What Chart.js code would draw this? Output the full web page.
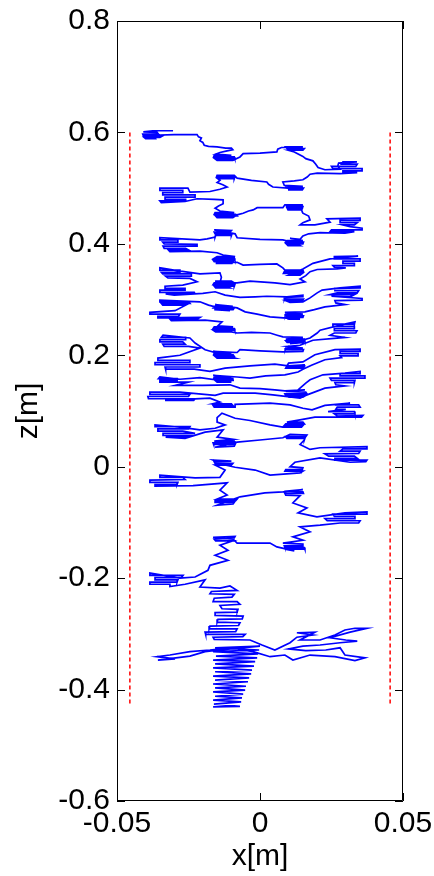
<!DOCTYPE html>
<html lang="en">
<head>
<meta charset="utf-8">
<script src="https://cdn.jsdelivr.net/npm/chart.js@4"></script>
<title>x[m] / z[m]</title>
<style>
  body { margin: 0; background: #fff; }
  canvas { display: block; }
</style>
</head>
<body>
<canvas id="walkChart" width="434" height="876"></canvas>
<script>
// axis ticks
const xTicks = [-0.05, 0, 0.05];
const xLabels = ['-0.05', '0', '0.05'];
const zTicks = [-0.6, -0.4, -0.2, 0, 0.2, 0.4, 0.6, 0.8];
const zLabels = ['-0.6', '-0.4', '-0.2', '0', '0.2', '0.4', '0.6', '0.8'];

// red dashed walls: x position, z extent
const wallX = [-0.0455, 0.0455];
const wallZ = [0.6, -0.43];

// trajectory [x, z] in metres, top to bottom
const walkUpper = [
  [-0.0304,0.603],[-0.0375,0.603],
  [-0.0408,0.601],[-0.0360,0.600],[-0.0355,0.597],[-0.0410,0.597],[-0.0408,0.594],[-0.0340,0.594],[-0.0350,0.591],[-0.0405,0.591],[-0.0400,0.589],[-0.0365,0.589],[-0.0370,0.595],
  [-0.0300,0.596],[-0.0220,0.596],[-0.0215,0.592],[-0.0205,0.590],[-0.0210,0.585],[-0.0200,0.582],[-0.0195,0.577],[-0.0180,0.575],[-0.0150,0.574],[-0.0120,0.572],[-0.0100,0.572],[-0.0095,0.569],[-0.0115,0.567],[-0.0140,0.564],[-0.0155,0.561],
  [-0.0100,0.559],[-0.0160,0.559],[-0.0162,0.556],[-0.0090,0.556],[-0.0088,0.553],[-0.0158,0.553],[-0.0150,0.550],[-0.0095,0.550],[-0.0070,0.556],[-0.0059,0.562],
  [0.0000,0.563],[0.0059,0.565],[0.0062,0.570],[0.0075,0.573],
  [0.0150,0.574],[0.0090,0.574],[0.0095,0.571],[0.0155,0.571],[0.0150,0.568],[0.0100,0.568],[0.0120,0.565],
  [0.0135,0.561],[0.0150,0.557],[0.0160,0.553],[0.0185,0.549],[0.0195,0.543],[0.0203,0.537],[0.0227,0.533],
  [0.0280,0.534],[0.0272,0.540],[0.0275,0.545],[0.0339,0.547],[0.0290,0.547],[0.0285,0.543],[0.0340,0.543],[0.0335,0.539],[0.0250,0.539],[0.0255,0.535],[0.0357,0.535],[0.0357,0.531],[0.0290,0.531],[0.0290,0.528],[0.0340,0.528],[0.0280,0.526],
  [0.0200,0.527],[0.0175,0.525],[0.0165,0.520],[0.0150,0.515],[0.0120,0.513],[0.0080,0.511],[0.0085,0.505],
  [0.0150,0.503],[0.0090,0.503],[0.0092,0.500],[0.0152,0.500],[0.0148,0.497],[0.0098,0.497],[0.0120,0.499],
  [0.0045,0.502],[0.0030,0.507],[0.0024,0.511],[-0.0030,0.514],[-0.0080,0.518],
  [-0.0090,0.523],[-0.0150,0.523],[-0.0152,0.520],[-0.0088,0.520],[-0.0090,0.517],[-0.0148,0.517],[-0.0140,0.514],
  [-0.0150,0.510],[-0.0130,0.506],[-0.0115,0.502],[-0.0140,0.498],[-0.0175,0.494],[-0.0245,0.493],
  [-0.0252,0.500],[-0.0350,0.500],[-0.0350,0.496],[-0.0270,0.496],[-0.0270,0.492],[-0.0340,0.492],[-0.0340,0.488],[-0.0227,0.488],[-0.0227,0.484],[-0.0332,0.484],[-0.0332,0.480],[-0.0260,0.480],[-0.0260,0.477],[-0.0350,0.477],[-0.0345,0.474],[-0.0262,0.476],[-0.0220,0.481],
  [-0.0160,0.480],[-0.0129,0.479],[-0.0129,0.472],[-0.0145,0.468],[-0.0157,0.464],[-0.0140,0.459],
  [-0.0090,0.456],[-0.0157,0.456],[-0.0160,0.453],[-0.0085,0.453],[-0.0080,0.450],[-0.0155,0.450],[-0.0150,0.447],[-0.0095,0.447],[-0.0080,0.452],
  [-0.0059,0.455],[-0.0040,0.459],[-0.0024,0.461],[-0.0010,0.465],[0.0080,0.465],[0.0087,0.470],
  [0.0150,0.470],[0.0090,0.467],[0.0150,0.467],[0.0148,0.464],[0.0095,0.464],[0.0098,0.461],[0.0145,0.461],
  [0.0150,0.455],[0.0170,0.450],[0.0175,0.443],[0.0150,0.438],[0.0140,0.434],[0.0192,0.434],[0.0245,0.439],[0.0234,0.445],
  [0.0350,0.446],[0.0350,0.442],[0.0280,0.442],[0.0280,0.438],[0.0340,0.438],[0.0330,0.434],[0.0290,0.434],[0.0315,0.431],[0.0357,0.428],[0.0357,0.425],[0.0250,0.425],[0.0245,0.422],[0.0330,0.422],[0.0297,0.419],[0.0210,0.420],
  [0.0170,0.418],[0.0150,0.414],[0.0140,0.408],[0.0105,0.410],
  [0.0150,0.406],[0.0095,0.406],[0.0090,0.403],[0.0152,0.403],[0.0150,0.400],[0.0092,0.400],[0.0098,0.397],[0.0140,0.397],[0.0120,0.402],[0.0080,0.407],
  [0.0000,0.408],[-0.0080,0.411],[-0.0087,0.418],
  [-0.0160,0.425],[-0.0100,0.424],[-0.0105,0.421],[-0.0160,0.421],[-0.0157,0.418],[-0.0098,0.418],[-0.0100,0.415],[-0.0155,0.415],[-0.0157,0.412],
  [-0.0185,0.409],[-0.0210,0.407],
  [-0.0350,0.411],[-0.0350,0.407],[-0.0287,0.407],[-0.0287,0.403],[-0.0340,0.403],[-0.0335,0.400],[-0.0220,0.399],[-0.0220,0.396],[-0.0339,0.396],[-0.0335,0.392],[-0.0260,0.392],[-0.0250,0.389],[-0.0320,0.389],[-0.0315,0.386],[-0.0210,0.387]
];

const walkMiddle = [
  [-0.0150,0.384],[-0.0129,0.380],
  [-0.0087,0.377],[-0.0150,0.377],[-0.0160,0.374],[-0.0090,0.374],[-0.0088,0.371],[-0.0164,0.371],[-0.0160,0.368],[-0.0095,0.368],[-0.0098,0.365],[-0.0155,0.365],[-0.0080,0.367],
  [-0.0059,0.362],[0.0000,0.363],[0.0059,0.364],[0.0080,0.357],
  [0.0087,0.353],[0.0150,0.353],[0.0152,0.350],[0.0085,0.350],[0.0082,0.347],[0.0148,0.347],[0.0140,0.344],[0.0100,0.344],[0.0150,0.355],
  [0.0185,0.365],[0.0245,0.373],
  [0.0343,0.378],[0.0260,0.377],[0.0260,0.373],[0.0350,0.373],[0.0350,0.369],[0.0290,0.369],[0.0290,0.365],[0.0330,0.365],[0.0330,0.361],[0.0255,0.361],[0.0260,0.358],[0.0300,0.357],[0.0269,0.355],
  [0.0200,0.354],[0.0175,0.350],[0.0160,0.343],[0.0140,0.337],[0.0157,0.332],[0.0105,0.327],[0.0052,0.330],[-0.0035,0.333],[-0.0080,0.330],
  [-0.0157,0.333],[-0.0100,0.333],[-0.0090,0.330],[-0.0160,0.330],[-0.0164,0.327],[-0.0088,0.327],[-0.0090,0.324],[-0.0160,0.324],[-0.0155,0.321],[-0.0105,0.321],
  [-0.0140,0.330],[-0.0135,0.340],[-0.0140,0.348],[-0.0210,0.346],
  [-0.0290,0.352],[-0.0350,0.357],[-0.0350,0.353],[-0.0280,0.353],[-0.0280,0.349],[-0.0345,0.349],[-0.0340,0.346],[-0.0240,0.346],[-0.0240,0.342],[-0.0330,0.342],[-0.0322,0.339],[-0.0245,0.338],
  [-0.0220,0.332],[-0.0270,0.326],
  [-0.0332,0.324],[-0.0332,0.320],[-0.0262,0.320],[-0.0262,0.317],[-0.0350,0.317],[-0.0350,0.313],[-0.0230,0.313],[-0.0227,0.310],[-0.0330,0.310],[-0.0300,0.308],[-0.0200,0.311],
  [-0.0157,0.314],[-0.0122,0.308],[-0.0070,0.304],[-0.0017,0.305],[0.0024,0.306],[0.0094,0.305],
  [0.0150,0.308],[0.0150,0.305],[0.0087,0.304],[0.0085,0.301],[0.0152,0.301],[0.0148,0.298],[0.0090,0.298],[0.0105,0.295],[0.0150,0.296],
  [0.0175,0.303],[0.0200,0.312],[0.0217,0.317],
  [0.0280,0.321],[0.0350,0.324],[0.0350,0.321],[0.0262,0.320],[0.0262,0.316],[0.0345,0.316],[0.0340,0.312],[0.0270,0.312],[0.0245,0.309],[0.0330,0.309],[0.0315,0.305],[0.0250,0.306],
  [0.0357,0.302],[0.0357,0.299],[0.0262,0.298],[0.0265,0.294],[0.0297,0.291],[0.0227,0.287],[0.0190,0.282],[0.0157,0.278],
  [0.0087,0.277],[0.0150,0.274],[0.0090,0.274],[0.0088,0.271],[0.0152,0.271],[0.0150,0.268],[0.0095,0.268],[0.0098,0.265],[0.0140,0.265],
  [0.0035,0.269],[-0.0010,0.274],[-0.0052,0.278],[-0.0080,0.285],
  [-0.0157,0.291],[-0.0095,0.288],[-0.0160,0.288],[-0.0164,0.285],[-0.0090,0.285],[-0.0094,0.282],[-0.0160,0.282],[-0.0105,0.280],
  [-0.0180,0.290],[-0.0210,0.296],
  [-0.0350,0.299],[-0.0350,0.296],[-0.0250,0.296],[-0.0245,0.293],[-0.0345,0.293],[-0.0340,0.290],[-0.0260,0.290],
  [-0.0297,0.280],[-0.0385,0.277],[-0.0385,0.274],[-0.0280,0.274],[-0.0285,0.270],[-0.0357,0.270],[-0.0357,0.267],[-0.0210,0.268],[-0.0220,0.265],[-0.0315,0.265],[-0.0310,0.262],[-0.0192,0.263],
  [-0.0133,0.260],[-0.0147,0.253],
  [-0.0094,0.251],[-0.0160,0.251],[-0.0164,0.248],[-0.0090,0.248],[-0.0088,0.245],[-0.0164,0.245],[-0.0155,0.242],[-0.0100,0.242],[-0.0080,0.240],
  [-0.0030,0.241],[0.0035,0.240],[0.0060,0.236],[0.0080,0.233],
  [0.0150,0.232],[0.0090,0.229],[0.0155,0.229],[0.0157,0.226],[0.0090,0.226],[0.0095,0.223],[0.0155,0.223],[0.0105,0.221],
  [0.0175,0.231],[0.0200,0.240],[0.0210,0.245],
  [0.0280,0.254],[0.0332,0.260],[0.0330,0.256],[0.0255,0.256],[0.0255,0.252],[0.0330,0.252],[0.0330,0.248],[0.0260,0.248],[0.0260,0.244],[0.0339,0.244],[0.0335,0.240],[0.0260,0.240],[0.0245,0.236],
  [0.0297,0.232],[0.0185,0.227],[0.0160,0.222],[0.0140,0.218],
  [0.0098,0.216],[0.0150,0.213],[0.0090,0.213],[0.0088,0.210],[0.0152,0.210],[0.0150,0.207],[0.0080,0.206],
  [0.0000,0.208],[-0.0070,0.210],[-0.0080,0.205],
  [-0.0164,0.207],[-0.0100,0.204],[-0.0160,0.204],[-0.0162,0.201],[-0.0094,0.201],[-0.0090,0.198],[-0.0157,0.198],[-0.0150,0.195],[-0.0087,0.195],
  [-0.0192,0.210],[-0.0227,0.222],
  [-0.0245,0.231],[-0.0339,0.236],[-0.0345,0.232],[-0.0260,0.232],[-0.0260,0.228],[-0.0350,0.228],[-0.0350,0.224],[-0.0270,0.224],[-0.0262,0.220],[-0.0340,0.220],[-0.0335,0.216],[-0.0250,0.216],
  [-0.0210,0.213],[-0.0280,0.200],[-0.0357,0.195],[-0.0357,0.191],[-0.0245,0.191],[-0.0245,0.187],[-0.0367,0.187],[-0.0367,0.183],[-0.0210,0.183],[-0.0210,0.179],[-0.0332,0.179],[-0.0330,0.175],[-0.0230,0.175],[-0.0175,0.171],
  [-0.0122,0.177],[-0.0035,0.181],[0.0052,0.184],[0.0098,0.181],
  [0.0157,0.183],[0.0095,0.180],[0.0155,0.180],[0.0150,0.177],[0.0090,0.177],[0.0100,0.186],[0.0150,0.188],
  [0.0192,0.201],[0.0262,0.210],
  [0.0350,0.211],[0.0350,0.207],[0.0280,0.207],[0.0280,0.203],[0.0343,0.203],[0.0343,0.199],[0.0280,0.199],[0.0285,0.196],
  [0.0227,0.192],[0.0180,0.182],[0.0150,0.175],[0.0133,0.170],[0.0087,0.165],[0.0020,0.163],[-0.0035,0.159],[-0.0080,0.161],
  [-0.0164,0.164],[-0.0100,0.161],[-0.0160,0.161],[-0.0162,0.158],[-0.0095,0.158],[-0.0094,0.155],[-0.0157,0.155],[-0.0150,0.152],[-0.0100,0.152],
  [-0.0210,0.160],[-0.0280,0.157],
  [-0.0350,0.161],[-0.0355,0.158],[-0.0290,0.158],[-0.0290,0.155],[-0.0350,0.155],[-0.0350,0.152],[-0.0250,0.152],
  [-0.0297,0.146],[-0.0200,0.146],[-0.0105,0.147],[-0.0070,0.141],[0.0000,0.140],[0.0052,0.138],[0.0087,0.136],
  [0.0157,0.138],[0.0090,0.135],[0.0160,0.134],[0.0164,0.131],[0.0087,0.131],[0.0090,0.128],[0.0160,0.128],[0.0150,0.125],[0.0105,0.125],
  [0.0140,0.141],[0.0160,0.150],[0.0175,0.156],[0.0220,0.165],
  [0.0297,0.168],[0.0350,0.171],[0.0350,0.167],[0.0280,0.167],[0.0280,0.163],[0.0367,0.163],[0.0367,0.159],[0.0245,0.159],[0.0250,0.155],[0.0332,0.155],[0.0330,0.151],[0.0262,0.151],[0.0265,0.147],[0.0297,0.145],
  [0.0227,0.141],[0.0160,0.128],[0.0140,0.123],[0.0045,0.129],[-0.0017,0.132],[-0.0129,0.132],[-0.0157,0.128],
  [-0.0280,0.134],[-0.0385,0.134],[-0.0385,0.130],[-0.0245,0.130],[-0.0250,0.126],[-0.0392,0.126],[-0.0390,0.122],[-0.0227,0.122],[-0.0232,0.119],[-0.0332,0.119]
];

const walkLower = [
  [-0.0175,0.123],[-0.0140,0.116],
  [-0.0164,0.113],[-0.0100,0.113],[-0.0095,0.110],[-0.0164,0.110],[-0.0160,0.107],[-0.0087,0.107],[-0.0087,0.112],
  [0.0035,0.114],[0.0105,0.111],[0.0150,0.105],[0.0182,0.102],[0.0227,0.110],
  [0.0315,0.114],[0.0262,0.111],[0.0345,0.111],[0.0350,0.107],[0.0270,0.107],[0.0265,0.103],[0.0300,0.103],[0.0238,0.099],[0.0330,0.099],[0.0332,0.095],[0.0260,0.095],[0.0270,0.091],[0.0360,0.092],[0.0355,0.089],
  [0.0192,0.089],[0.0140,0.084],[0.0094,0.080],
  [0.0150,0.080],[0.0155,0.077],[0.0090,0.077],[0.0085,0.074],[0.0150,0.074],[0.0145,0.071],[0.0080,0.071],
  [0.0035,0.075],[-0.0035,0.083],[-0.0087,0.087],[-0.0133,0.096],[-0.0150,0.088],[-0.0150,0.080],[-0.0122,0.075],[-0.0157,0.069],[-0.0210,0.066],[-0.0280,0.071],
  [-0.0367,0.075],[-0.0367,0.072],[-0.0245,0.072],[-0.0250,0.068],[-0.0357,0.068],[-0.0357,0.064],[-0.0270,0.064],[-0.0227,0.060],[-0.0339,0.060],[-0.0339,0.056],[-0.0240,0.056],[-0.0250,0.053],[-0.0330,0.053],[-0.0262,0.051],
  [-0.0192,0.062],[-0.0129,0.066],[-0.0150,0.053],
  [-0.0094,0.049],[-0.0160,0.046],[-0.0090,0.046],[-0.0087,0.043],[-0.0164,0.043],[-0.0162,0.040],[-0.0087,0.040],[-0.0090,0.037],[-0.0157,0.035],[-0.0080,0.044],
  [0.0000,0.048],[0.0080,0.052],
  [0.0105,0.058],[0.0164,0.057],[0.0160,0.054],[0.0090,0.054],[0.0094,0.051],[0.0157,0.051],[0.0155,0.048],
  [0.0140,0.040],[0.0175,0.031],[0.0210,0.034],
  [0.0374,0.036],[0.0374,0.032],[0.0290,0.032],[0.0280,0.028],[0.0350,0.028],[0.0345,0.024],[0.0227,0.023],[0.0240,0.019],[0.0330,0.019],[0.0340,0.015],[0.0262,0.015],[0.0262,0.012],[0.0374,0.012],[0.0370,0.009],[0.0315,0.008],
  [0.0210,0.016],[0.0122,0.008],[0.0105,0.000],
  [0.0150,-0.002],[0.0148,-0.005],[0.0090,-0.005],[0.0087,-0.008],[0.0150,-0.008],[0.0140,-0.011],
  [0.0035,-0.015],[-0.0017,-0.006],[-0.0087,-0.001],[-0.0130,0.004],
  [-0.0164,0.012],[-0.0100,0.010],[-0.0160,0.009],[-0.0157,0.006],[-0.0095,0.006],[-0.0100,0.003],[-0.0157,0.003],
  [-0.0122,-0.006],[-0.0140,-0.019],[-0.0227,-0.020],
  [-0.0350,-0.015],[-0.0350,-0.019],[-0.0270,-0.019],[-0.0262,-0.023],[-0.0385,-0.024],[-0.0385,-0.028],[-0.0287,-0.028],[-0.0290,-0.032],[-0.0367,-0.032],[-0.0367,-0.035],[-0.0234,-0.034],
  [-0.0115,-0.029],[-0.0140,-0.042],[-0.0115,-0.051],
  [-0.0150,-0.058],[-0.0080,-0.058],[-0.0085,-0.061],[-0.0157,-0.061],[-0.0157,-0.064],[-0.0090,-0.064],[-0.0094,-0.067],[-0.0150,-0.069],
  [-0.0070,-0.054],[0.0017,-0.047],[0.0080,-0.045],
  [0.0150,-0.041],[0.0085,-0.044],[0.0150,-0.045],[0.0152,-0.048],[0.0087,-0.048],[0.0090,-0.051],[0.0140,-0.052],
  [0.0115,-0.065],[0.0164,-0.074],[0.0133,-0.083],[0.0199,-0.090],
  [0.0297,-0.083],[0.0374,-0.081],[0.0374,-0.085],[0.0255,-0.085],[0.0260,-0.089],[0.0332,-0.089],[0.0332,-0.093],[0.0227,-0.093],[0.0235,-0.097],[0.0350,-0.097],[0.0345,-0.101],[0.0280,-0.101],
  [0.0210,-0.105],[0.0140,-0.108],[0.0175,-0.117],[0.0115,-0.126],[0.0150,-0.132],
  [0.0080,-0.137],[0.0150,-0.139],[0.0150,-0.142],[0.0085,-0.142],[0.0087,-0.145],[0.0155,-0.145],[0.0157,-0.148],[0.0087,-0.148],[0.0120,-0.151],
  [0.0059,-0.144],[0.0035,-0.137],[-0.0080,-0.137],
  [-0.0094,-0.130],[-0.0164,-0.127],[-0.0087,-0.125],[-0.0090,-0.128],[-0.0160,-0.130],[-0.0155,-0.133],[-0.0095,-0.133],
  [-0.0140,-0.141],[-0.0112,-0.150],[-0.0157,-0.159],[-0.0112,-0.168],[-0.0175,-0.177],[-0.0182,-0.186],[-0.0227,-0.198],[-0.0280,-0.200],
  [-0.0385,-0.191],[-0.0385,-0.195],[-0.0269,-0.195],[-0.0275,-0.199],[-0.0367,-0.199],[-0.0367,-0.203],[-0.0287,-0.203],[-0.0290,-0.207],[-0.0385,-0.207],[-0.0385,-0.211],[-0.0315,-0.211],[-0.0315,-0.215],[-0.0262,-0.211],[-0.0192,-0.203]
];

const walkBase = [
  [-0.0210,-0.216],[-0.0140,-0.218],[-0.0105,-0.214],[-0.0080,-0.222],[-0.0170,-0.224],[-0.0175,-0.228],[-0.0090,-0.229],[-0.0098,-0.234],[-0.0160,-0.236],[-0.0164,-0.242],
  [-0.0080,-0.242],[-0.0070,-0.247],[-0.0140,-0.249],[-0.0133,-0.255],[-0.0077,-0.256],[-0.0080,-0.261],[-0.0157,-0.262],[-0.0157,-0.267],[-0.0059,-0.268],[-0.0062,-0.273],
  [-0.0147,-0.274],[-0.0150,-0.279],[-0.0070,-0.280],[-0.0075,-0.285],[-0.0175,-0.286],[-0.0178,-0.291],[-0.0080,-0.291],[-0.0085,-0.296],[-0.0192,-0.297],[-0.0190,-0.301],
  [-0.0052,-0.301],[-0.0060,-0.305],[-0.0164,-0.306],[-0.0160,-0.310],[-0.0035,-0.311],
  [0.0007,-0.320],[0.0052,-0.329],[0.0105,-0.316],[0.0129,-0.306],[0.0185,-0.302],[0.0129,-0.298],[0.0192,-0.297],[0.0140,-0.311],[0.0210,-0.311],[0.0262,-0.302],
  [0.0297,-0.293],[0.0332,-0.290],[0.0374,-0.290],[0.0315,-0.297],[0.0245,-0.307],[0.0300,-0.311],[0.0340,-0.313],[0.0280,-0.316],[0.0210,-0.320],[0.0150,-0.322],
  [0.0100,-0.327],[0.0160,-0.330],[0.0230,-0.329],[0.0280,-0.325],[0.0297,-0.338],[0.0367,-0.343],[0.0332,-0.348],
  [0.0262,-0.341],[0.0175,-0.338],[0.0115,-0.347],[0.0087,-0.338],[0.0035,-0.341],[-0.0024,-0.332],
  [-0.0105,-0.325],[-0.0175,-0.329],[-0.0245,-0.332],[-0.0315,-0.338],[-0.0360,-0.341],[-0.0297,-0.345],[-0.0357,-0.347],[-0.0245,-0.340],[-0.0192,-0.332],[-0.0140,-0.329],
  [0.0000,-0.322],[-0.0157,-0.325],[-0.0003,-0.329],[-0.0164,-0.332],[-0.0007,-0.336],[-0.0154,-0.340],[-0.0010,-0.343],[-0.0164,-0.347],[-0.0017,-0.350],[-0.0157,-0.354],
  [-0.0021,-0.358],[-0.0164,-0.361],[-0.0028,-0.365],[-0.0157,-0.368],[-0.0031,-0.372],[-0.0164,-0.376],[-0.0038,-0.379],[-0.0157,-0.383],[-0.0042,-0.386],[-0.0164,-0.390],
  [-0.0049,-0.394],[-0.0157,-0.397],[-0.0052,-0.401],[-0.0164,-0.404],[-0.0059,-0.408],[-0.0157,-0.412],[-0.0063,-0.415],[-0.0164,-0.419],[-0.0066,-0.422],[-0.0161,-0.426],
  [-0.0070,-0.430],[-0.0164,-0.431]
];

const walk = walkUpper.concat(walkMiddle, walkLower, walkBase).map(([x, z]) => ({x: x, y: z}));

// MATLAB style box with inward ticks on all four sides
const boxAxes = {
  id: 'boxAxes',
  afterDraw(chart) {
    const {ctx, chartArea: a, scales: {x, y}} = chart;
    const len = 8;
    ctx.save();
    ctx.strokeStyle = '#000';
    ctx.lineWidth = 1;
    ctx.beginPath();
    ctx.rect(Math.round(a.left) + 0.5, Math.round(a.top) + 0.5, Math.round(a.right - a.left) - 1, Math.round(a.bottom - a.top) - 1);
    xTicks.forEach(v => {
      const px = Math.round(x.getPixelForValue(v)) + 0.5;
      ctx.moveTo(px, a.bottom); ctx.lineTo(px, a.bottom - len);
      ctx.moveTo(px, a.top); ctx.lineTo(px, a.top + len);
    });
    zTicks.forEach(v => {
      const py = Math.round(y.getPixelForValue(v)) + 0.5;
      ctx.moveTo(a.left, py); ctx.lineTo(a.left + len, py);
      ctx.moveTo(a.right, py); ctx.lineTo(a.right - len, py);
    });
    ctx.stroke();
    ctx.restore();
  }
};

const font = {family: "'Liberation Sans', Arial, Helvetica, sans-serif", size: 30};

new Chart(document.getElementById('walkChart'), {
  type: 'scatter',
  data: {
    datasets: [
      {
        data: walk,
        showLine: true,
        borderColor: '#0000ff',
        borderWidth: 1.7,
        pointRadius: 0,
        tension: 0
      },
      {
        data: wallZ.map(z => ({x: wallX[0], y: z})),
        showLine: true,
        borderColor: '#ff0000',
        borderWidth: 1.5,
        borderDash: [4, 3],
        pointRadius: 0
      },
      {
        data: wallZ.map(z => ({x: wallX[1], y: z})),
        showLine: true,
        borderColor: '#ff0000',
        borderWidth: 1.5,
        borderDash: [4, 3],
        pointRadius: 0
      }
    ]
  },
  options: {
    responsive: false,
    animation: false,
    devicePixelRatio: 1,
    layout: {padding: {top: 21, right: 31, left: 0, bottom: 0}},
    plugins: {legend: {display: false}, tooltip: {enabled: false}},
    scales: {
      x: {
        type: 'linear',
        min: -0.05,
        max: 0.05,
        afterBuildTicks: s => { s.ticks = xTicks.map(v => ({value: v})); },
        afterFit: s => { s.height = 75; s.paddingLeft = 0; s.paddingRight = 0; },
        grid: {display: false, drawTicks: false},
        border: {display: false},
        ticks: {
          autoSkip: false,
          maxRotation: 0,
          padding: 5,
          color: '#000',
          font: font,
          callback: v => xLabels[xTicks.indexOf(v)]
        },
        title: {display: true, text: 'x[m]', color: '#000', font: {...font, lineHeight: 1.0}}
      },
      y: {
        type: 'linear',
        min: -0.6,
        max: 0.8,
        afterBuildTicks: s => { s.ticks = zTicks.map(v => ({value: v})); },
        afterFit: s => { s.width = 117; s.paddingTop = 0; s.paddingBottom = 0; },
        grid: {display: false, drawTicks: false},
        border: {display: false},
        ticks: {
          autoSkip: false,
          padding: 7,
          color: '#000',
          font: font,
          callback: v => zLabels[zTicks.indexOf(v)]
        },
        title: {display: true, text: 'z[m]', color: '#000', font: {...font, lineHeight: 1.65}}
      }
    }
  },
  plugins: [boxAxes]
});
</script>
</body>
</html>
